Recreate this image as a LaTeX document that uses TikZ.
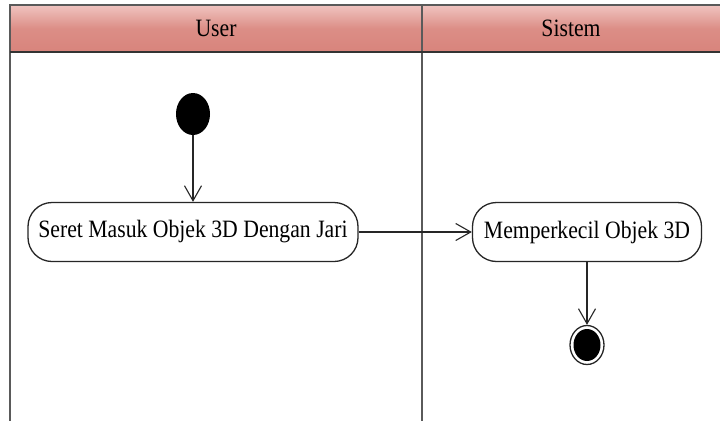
\documentclass[tikz,border=0pt]{standalone}
\usepackage{fontspec}
\setmainfont{Liberation Serif}
\usepackage{tikz}
\usetikzlibrary{shapes.geometric,arrows.meta}

\definecolor{headtop}{RGB}{240,196,192}
\definecolor{headbot}{RGB}{216,132,124}
\definecolor{lanegray}{RGB}{90,90,90}
\newcommand{\teks}[1]{\scalebox{1}[1.15]{#1}}

\begin{document}
\begin{tikzpicture}[x=1pt,y=1pt]
\tikzstyle{every node}+=[inner sep=0pt, font=\fontsize{21.7}{24}\selectfont]
\tikzstyle{activity}=[draw=black!85, line width=1.3pt, rounded corners=24pt, minimum height=59pt]
\tikzstyle{flow}=[draw=black!85, line width=1.1pt, -{Straight Barb[length=15pt,width=17pt,line width=1.1pt]}]
\useasboundingbox (0,0) rectangle (720,-421);
\fill [white] (0,0) rectangle (720,-421);
% swimlane header
\shade [top color=headtop, bottom color=headbot, middle color=headbot!85!headtop] (10,-5) rectangle (720,-52);
\draw [lanegray, line width=1.8pt] (720,-5) -- (10,-5) -- (10,-421);
\draw [lanegray, line width=1.8pt] (422,-5) -- (422,-421);
\draw [black!80, line width=1.2pt] (10,-52) -- (720,-52);
\node (user) at (216,-28) {\teks{User}};
\node (sistem) at (571,-28) {\teks{Sistem}};
% activities
\node [ellipse, fill=black, minimum width=34pt, minimum height=42pt] (mulai) at (193,-114) {};
\node [activity, minimum width=330pt] (seret) at (193,-232) {\teks{Seret Masuk Objek 3D Dengan Jari}};
\node [activity, minimum width=229pt] (perkecil) at (587,-232) {\teks{Memperkecil Objek 3D}};
\node [ellipse, draw=black!85, line width=1.3pt, minimum width=34pt, minimum height=39pt] (akhir) at (587,-345) {};
\node [ellipse, fill=black, minimum width=27pt, minimum height=32pt] (akhirIsi) at (akhir) {};
\draw [flow] (mulai) -- (seret);
\draw [flow] (seret) -- (perkecil);
\draw [flow] (perkecil) -- (akhir);
\end{tikzpicture}
\end{document}
